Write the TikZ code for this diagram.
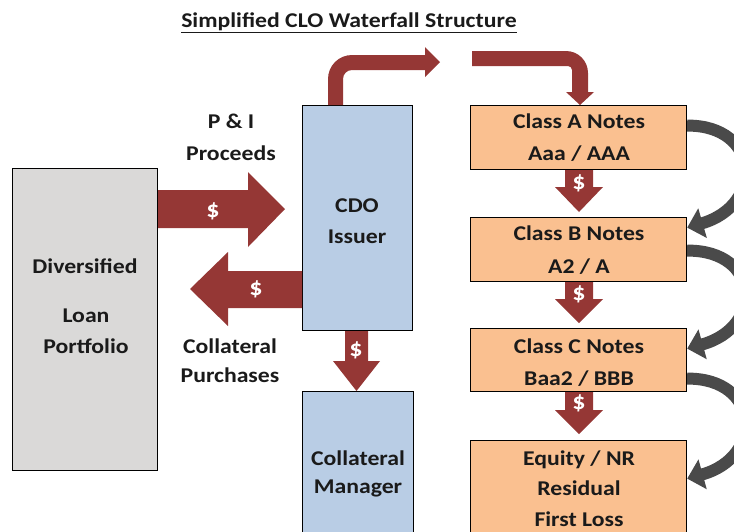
\documentclass[tikz,border=0pt]{standalone}
\usepackage{fontspec}
\setmainfont{Carlito}[FakeStretch=1.13]
\usetikzlibrary{arrows.meta,calc}

\definecolor{loangray}{HTML}{DAD9D8}
\definecolor{issuerblue}{HTML}{B9CDE5}
\definecolor{noteorange}{HTML}{FAC090}
\definecolor{flowred}{HTML}{953735}
\definecolor{spillgray}{HTML}{4A4A4A}
\definecolor{inktext}{HTML}{1A1A1A}

\begin{document}
\begin{tikzpicture}[x=1pt,y=-1pt,
  box/.style={draw=black, line width=1.2pt, inner sep=0pt, anchor=north west},
  txt/.style={font=\bfseries\fontsize{21}{24}\selectfont, text=inktext, inner sep=0pt, anchor=base},
  dollar/.style={font=\bfseries\fontsize{23}{24}\selectfont, text=white, inner sep=0pt},
  redflow/.style={fill=flowred},
  spill/.style={draw=spillgray, line width=12pt, -{Triangle[width=30pt,length=16pt]}}
]
\useasboundingbox (0,0) rectangle (734,531);

% title
\node[txt] (title) at (349,27) {\underline{Simplified CLO Waterfall Structure}};

% boxes
\node[box, fill=loangray,   minimum width=145pt, minimum height=302pt] (loan)    at (12,168)  {};
\node[box, fill=issuerblue, minimum width=110pt, minimum height=225pt] (issuer)  at (302,105) {};
\node[box, fill=issuerblue, minimum width=111pt, minimum height=160pt] (manager) at (302,391) {};
\node[box, fill=noteorange, minimum width=216pt, minimum height=64pt]  (classA)  at (470,105) {};
\node[box, fill=noteorange, minimum width=216pt, minimum height=64pt]  (classB)  at (470,217) {};
\node[box, fill=noteorange, minimum width=216pt, minimum height=63pt]  (classC)  at (470,328) {};
\node[box, fill=noteorange, minimum width=216pt, minimum height=110pt] (equity)  at (470,440) {};

% box texts
\node[txt] (loan1) at (85,273) {Diversified};
\node[txt] (loan2) at (86,322) {Loan};
\node[txt] (loan3) at (86,353) {Portfolio};
\node[txt] (iss1) at (357,212) {CDO};
\node[txt] (iss2) at (357,243) {Issuer};
\node[txt] (man1) at (358,465) {Collateral};
\node[txt] (man2) at (358,493) {Manager};
\node[txt] (a1) at (579,128) {Class A Notes};
\node[txt] (a2) at (579,160) {Aaa / AAA};
\node[txt] (b1) at (579,240) {Class B Notes};
\node[txt] (b2) at (579,273) {A2 / A};
\node[txt] (c1) at (579,353) {Class C Notes};
\node[txt] (c2) at (579,385) {Baa2 / BBB};
\node[txt] (e1) at (579,465) {Equity / NR};
\node[txt] (e2) at (579,495) {Residual};
\node[txt] (e3) at (579,526) {First Loss};

% flow labels
\node[txt] (pi1) at (231,128) {P \& I};
\node[txt] (pi2) at (231,160) {Proceeds};
\node[txt] (cp1) at (230,353) {Collateral};
\node[txt] (cp2) at (230,382) {Purchases};

% P & I proceeds into the issuer
\fill[redflow] (loan.east |- 0,190) -- (248,190) -- (248,172) -- (285,209) -- (248,247)
  -- (248,228) -- (loan.east |- 0,228) -- cycle;
\node[dollar] (d1) at (213,211) {\$};

% collateral purchases out of the issuer
\fill[redflow] (issuer.west |- 0,271) -- (228,271) -- (228,252) -- (190,289) -- (228,326)
  -- (228,308) -- (issuer.west |- 0,308) -- cycle;
\node[dollar] (d2) at (256,289) {\$};

% fees to the collateral manager
\fill[redflow] (issuer.south -| 345,0) -- (345,361) -- (333,361) -- (manager.north -| 356.5,0)
  -- (380,361) -- (368,361) -- (issuer.south -| 368,0) -- cycle;
\node[dollar] (d3) at (356,350) {\$};

% issuer pays out over the top
\fill[redflow] (issuer.north -| 328,0) -- (328,79) .. controls (328,65.7) and (338.7,55) .. (352,55)
  -- (425,55) -- (425,47) -- (440,62) -- (425,77) -- (425,70)
  -- (352,70) .. controls (347,70) and (343,74) .. (343,79) -- (issuer.north -| 343,0) -- cycle;
\fill[redflow] (472,51) -- (566,51) .. controls (578.2,51) and (588,60.8) .. (588,73)
  -- (588,92) -- (594,92) -- (classA.north -| 580,0) -- (566,92) -- (572,92)
  -- (572,70) .. controls (572,67.8) and (570.2,66) .. (568,66) -- (472,66) -- cycle;

% waterfall between the note classes
\fill[redflow] (classA.south -| 565,0) -- (565,187) -- (555,187) -- (579,212) -- (603,187)
  -- (593,187) -- (classA.south -| 593,0) -- cycle;
\node[dollar] (d4) at (579,183) {\$};
\fill[redflow] (classB.south -| 565,0) -- (565,299) -- (555,299) -- (579,323) -- (603,299)
  -- (593,299) -- (classB.south -| 593,0) -- cycle;
\node[dollar] (d5) at (579,294) {\$};
\fill[redflow] (classC.south -| 565,0) -- (565,410) -- (555,410) -- (579,434) -- (603,410)
  -- (593,410) -- (classC.south -| 593,0) -- cycle;
\node[dollar] (d6) at (579,403) {\$};

% shortfall spill-over arrows
\draw[spill] ([yshift=12pt]classA.east) .. controls (760,125) and (765,205) .. ([yshift=22pt]classB.east);
\draw[spill] ([yshift=-1pt]classB.east) .. controls (760,250) and (765,327) .. ([yshift=11.5pt]classC.east);
\draw[spill] ([yshift=-18.5pt]classC.east) .. controls (760,378) and (765,457) .. ([yshift=17pt]equity.east);
\end{tikzpicture}
\end{document}
